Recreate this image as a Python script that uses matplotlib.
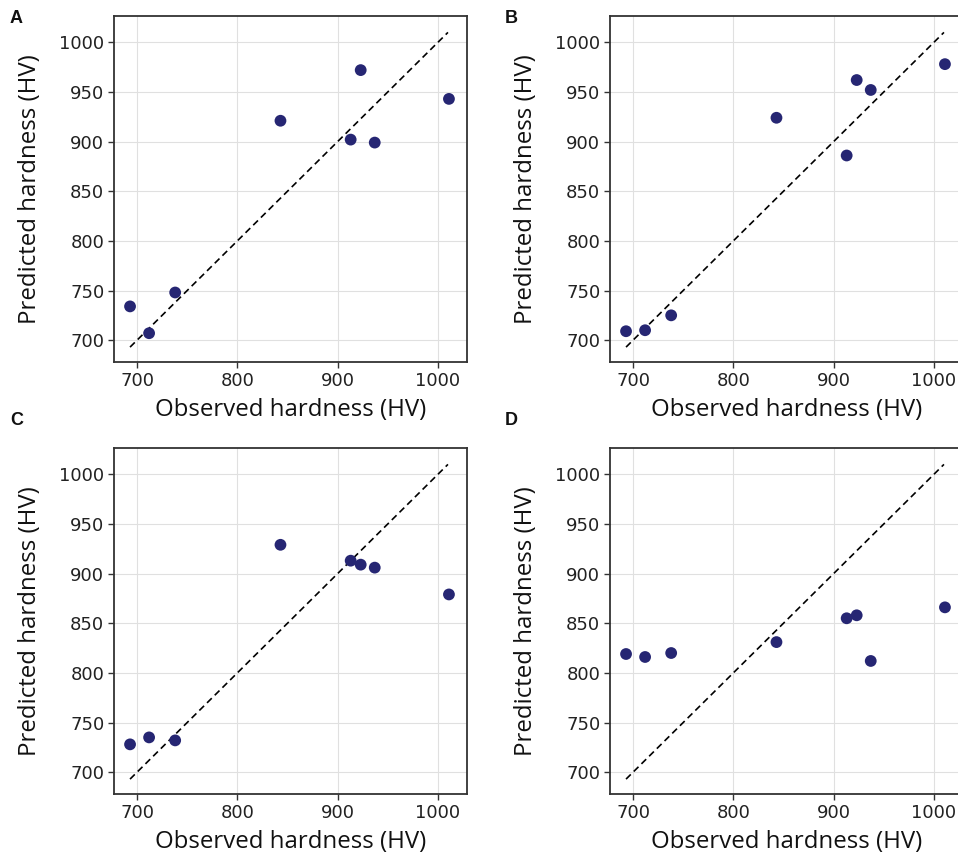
import matplotlib.pyplot as plt
import numpy as np

observed = [693, 712, 738, 843, 913, 923, 937, 1011]
pred_a = [734, 707, 748, 921, 902, 972, 899, 943]
pred_b = [709, 710, 725, 924, 886, 962, 952, 978]
pred_c = [728, 735, 732, 929, 913, 909, 906, 879]
pred_d = [819, 816, 820, 831, 855, 858, 812, 866]
panels = ['A', 'B', 'C', 'D']
preds = [pred_a, pred_b, pred_c, pred_d]

diag = [693, 1010]
dot_color = '#262673'

W, H = 958, 856
fig = plt.figure(figsize=(W / 100, H / 100), dpi=100)

# axes boxes in pixels: left, top
boxes = [(114, 16), (610, 16), (114, 448), (610, 448)]
letters_xy = [(10, 10), (505, 10), (10, 412), (505, 412)]
aw, ah = 353, 346

for i in range(4):
    left, top = boxes[i]
    ax = fig.add_axes([left / W, 1 - (top + ah) / H, aw / W, ah / H])
    ax.grid(True, color='#e0e0e0', linewidth=0.8, zorder=0)
    ax.set_axisbelow(True)
    ax.plot(diag, diag, linestyle='--', color='black', linewidth=1.2,
            dashes=(4, 2.5), zorder=2)
    ax.scatter(observed, preds[i], s=72, color=dot_color, zorder=3,
               edgecolors='none')
    ax.set_xlim(677, 1029)
    ax.set_ylim(678, 1026.5)
    ax.set_xticks([700, 800, 900, 1000])
    ax.set_yticks([700, 750, 800, 850, 900, 950, 1000])
    ax.tick_params(labelsize=13, length=4, width=1, color='#333333',
                   labelcolor='#222222', pad=3)
    for sp in ax.spines.values():
        sp.set_color('#333333')
        sp.set_linewidth(1.3)
    ax.set_xlabel('Observed hardness (HV)', fontsize=17.3, family='Open Sans',
                  color='#111111', labelpad=6)
    ax.set_ylabel('Predicted hardness (HV)', fontsize=17.3, family='Open Sans',
                  color='#111111', labelpad=12)
    lx, ly = letters_xy[i]
    fig.text(lx / W, 1 - ly / H, panels[i], fontsize=13, fontweight='bold',
             family='Liberation Sans', va='top', ha='left', color='#111111')

fig.savefig('out.png', dpi=100)
